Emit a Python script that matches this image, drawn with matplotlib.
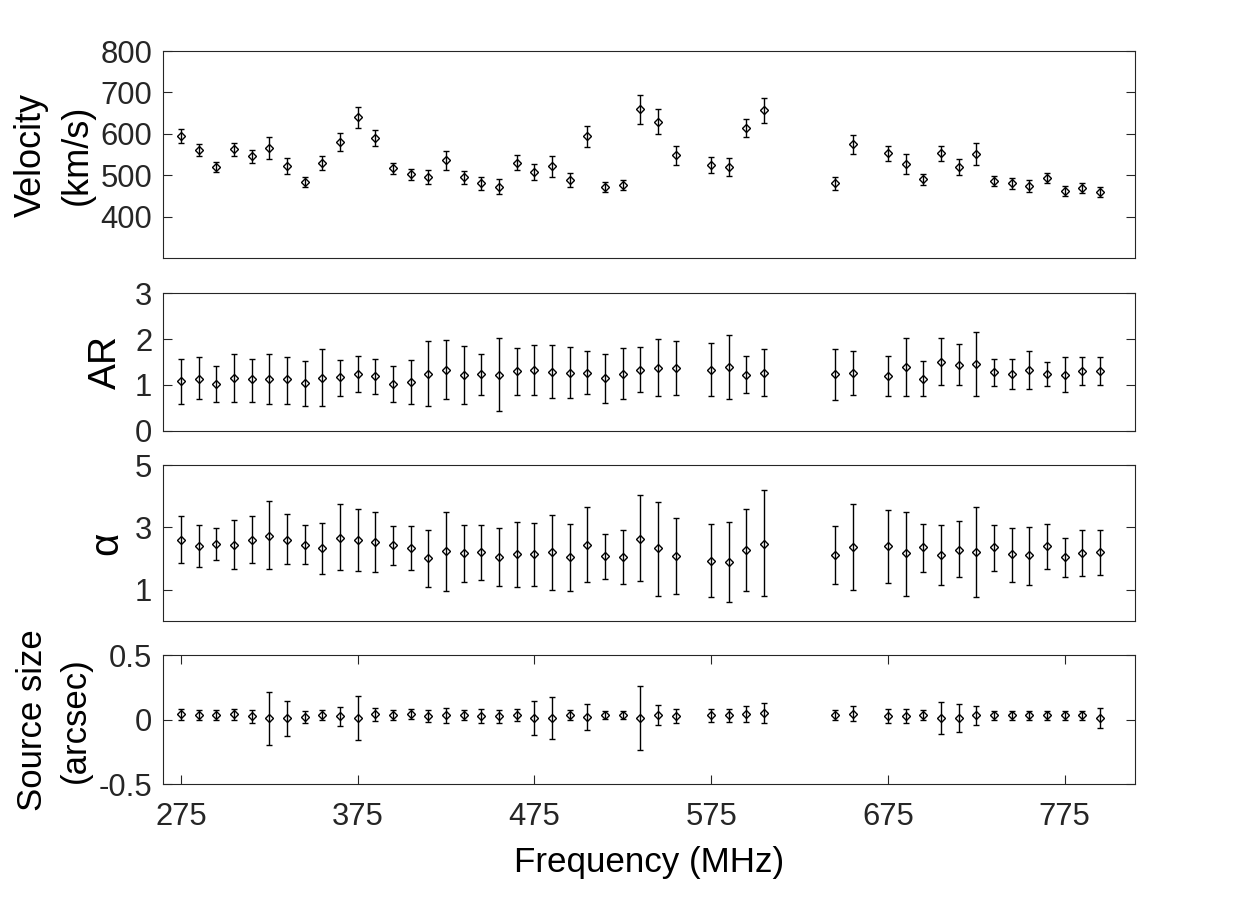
import matplotlib
matplotlib.use("Agg")
import matplotlib.pyplot as plt
import numpy as np

# --- DATA ---
freq = [275, 285, 295, 305, 315, 325, 335, 345, 355, 365,
        375, 385, 395, 405, 415, 425, 435, 445, 455, 465,
        475, 485, 495, 505, 515, 525, 535, 545, 555,
        575, 585, 595, 605,
        645, 655,
        675, 685, 695, 705, 715, 725, 735, 745, 755, 765, 775, 785, 795]

velocity = [594, 561, 520, 563, 546, 566, 522, 484, 529, 580,
            640, 590, 517, 503, 496, 537, 495, 481, 473, 531,
            508, 522, 489, 594, 472, 477, 659, 630, 549,
            525, 520, 614, 657,
            481, 575,
            553, 527, 491, 553, 520, 551, 486, 481, 474, 493, 462, 469, 460]
velocity_err = [17, 14, 12, 16, 16, 26, 19, 13, 17, 22,
                26, 19, 13, 13, 17, 23, 16, 16, 18, 19,
                20, 26, 18, 26, 13, 13, 35, 29, 23,
                19, 21, 22, 30,
                16, 23,
                19, 24, 13, 19, 19, 26, 12, 13, 15, 12, 12, 12, 12]

ar = [1.09, 1.13, 1.02, 1.15, 1.12, 1.13, 1.12, 1.04, 1.15, 1.16,
      1.24, 1.20, 1.02, 1.07, 1.24, 1.33, 1.22, 1.24, 1.22, 1.31,
      1.33, 1.29, 1.26, 1.26, 1.15, 1.24, 1.33, 1.37, 1.37,
      1.33, 1.39, 1.22, 1.26,
      1.24, 1.26,
      1.20, 1.39, 1.13, 1.50, 1.43, 1.46, 1.29, 1.24, 1.33, 1.24, 1.22, 1.30, 1.30]
ar_hi = [1.57, 1.61, 1.41, 1.67, 1.57, 1.67, 1.61, 1.53, 1.78, 1.54,
         1.63, 1.57, 1.41, 1.54, 1.96, 1.98, 1.85, 1.67, 2.02, 1.80,
         1.87, 1.87, 1.83, 1.74, 1.67, 1.80, 1.83, 2.00, 1.96,
         1.91, 2.09, 1.63, 1.78,
         1.78, 1.74,
         1.63, 2.02, 1.53, 2.02, 1.89, 2.15, 1.57, 1.57, 1.74, 1.50, 1.61, 1.61, 1.61]
ar_lo = [0.59, 0.68, 0.63, 0.63, 0.63, 0.57, 0.59, 0.54, 0.54, 0.76,
         0.85, 0.80, 0.63, 0.59, 0.54, 0.68, 0.59, 0.78, 0.43, 0.78,
         0.78, 0.72, 0.72, 0.80, 0.61, 0.68, 0.85, 0.76, 0.78,
         0.76, 0.70, 0.83, 0.75,
         0.67, 0.78,
         0.76, 0.75, 0.76, 1.00, 1.00, 0.76, 0.98, 0.91, 0.91, 0.98, 0.85, 1.00, 1.00]

alpha = [2.61, 2.41, 2.48, 2.45, 2.61, 2.74, 2.61, 2.45, 2.33, 2.67,
         2.61, 2.52, 2.42, 2.33, 2.01, 2.23, 2.17, 2.21, 2.04, 2.14,
         2.14, 2.21, 2.04, 2.45, 2.07, 2.04, 2.64, 2.33, 2.07,
         1.92, 1.88, 2.29, 2.48,
         2.11, 2.37,
         2.40, 2.17, 2.37, 2.11, 2.29, 2.20, 2.37, 2.14, 2.12, 2.40, 2.04, 2.17, 2.21]
alpha_hi = [3.37, 3.08, 2.99, 3.24, 3.37, 3.84, 3.43, 3.08, 3.15, 3.75,
            3.59, 3.49, 3.05, 3.05, 2.93, 3.49, 3.08, 3.08, 2.99, 3.18,
            3.15, 3.40, 3.12, 3.65, 2.80, 2.93, 4.03, 3.81, 3.31,
            3.12, 3.18, 3.59, 4.20,
            3.05, 3.75,
            3.56, 3.49, 3.12, 3.08, 3.21, 3.65, 3.08, 2.99, 3.02, 3.12, 2.67, 2.93, 2.93]
alpha_lo = [1.85, 1.73, 1.95, 1.66, 1.85, 1.66, 1.82, 1.82, 1.51, 1.63,
            1.60, 1.57, 1.79, 1.63, 1.09, 0.97, 1.25, 1.32, 1.13, 1.09,
            1.13, 1.00, 0.97, 1.25, 1.35, 1.19, 1.28, 0.81, 0.87,
            0.75, 0.59, 0.97, 0.81,
            1.19, 1.00,
            1.22, 0.81, 1.57, 1.16, 1.41, 0.75, 1.60, 1.25, 1.16, 1.66, 1.41, 1.44, 1.47]

size = [0.041, 0.036, 0.036, 0.041, 0.028, 0.010, 0.010, 0.021, 0.036, 0.028,
        0.013, 0.044, 0.036, 0.044, 0.028, 0.036, 0.036, 0.026, 0.028, 0.036,
        0.013, 0.013, 0.036, 0.021, 0.036, 0.036, 0.013, 0.036, 0.031,
        0.034, 0.034, 0.044, 0.052,
        0.036, 0.047,
        0.031, 0.031, 0.036, 0.013, 0.013, 0.034, 0.034, 0.034, 0.034, 0.034, 0.034, 0.034, 0.013]
size_err = [0.045, 0.038, 0.038, 0.042, 0.050, 0.205, 0.136, 0.050, 0.040, 0.074,
            0.170, 0.050, 0.040, 0.040, 0.047, 0.058, 0.040, 0.054, 0.050, 0.045,
            0.132, 0.165, 0.040, 0.100, 0.033, 0.033, 0.250, 0.077, 0.053,
            0.050, 0.050, 0.062, 0.078,
            0.037, 0.058,
            0.054, 0.054, 0.037, 0.124, 0.107, 0.074, 0.034, 0.034, 0.034, 0.034, 0.034, 0.034, 0.078]

freq_ticks = [275, 375, 475, 575, 675, 775]

# --- STYLE ---
dark = "#262626"
plt.rcParams["font.family"] = ["Liberation Sans", "DejaVu Sans"]
plt.rcParams["axes.unicode_minus"] = False
plt.rcParams["axes.edgecolor"] = dark
plt.rcParams["axes.linewidth"] = 0.8
plt.rcParams["xtick.color"] = dark
plt.rcParams["ytick.color"] = dark
plt.rcParams["text.color"] = dark

fig = plt.figure(figsize=(12.55, 8.97), dpi=100)

left, width = 0.1301, 0.7745
boxes = [(0.712, 0.2311), (0.520, 0.153), (0.308, 0.1733), (0.1257, 0.1438)]
axes = [fig.add_axes([left, b, width, h]) for b, h in boxes]

err_style = dict(fmt="D", ms=4.4, mfc="none", mec="black", mew=1.0,
                 ecolor="black", elinewidth=1.0, capsize=2.3, capthick=1.0)

f = np.array(freq)
axes[0].errorbar(f, velocity, yerr=velocity_err, **err_style)
ar_v = np.array(ar)
axes[1].errorbar(f, ar_v, yerr=[ar_v - np.array(ar_lo), np.array(ar_hi) - ar_v], **err_style)
al_v = np.array(alpha)
axes[2].errorbar(f, al_v, yerr=[al_v - np.array(alpha_lo), np.array(alpha_hi) - al_v], **err_style)
axes[3].errorbar(f, size, yerr=size_err, **err_style)

ylims = [(300, 800), (0, 3), (0, 5), (-0.5, 0.5)]
yticks = [[400, 500, 600, 700, 800], [0, 1, 2, 3], [1, 3, 5], [-0.5, 0, 0.5]]
yticklabels = [["400", "500", "600", "700", "800"], ["0", "1", "2", "3"],
               ["1", "3", "5"], ["-0.5", "0", "0.5"]]
ylabels = ["Velocity\n(km/s)", "AR", "α", "Source size\n(arcsec)"]
ylabel_sizes = [26, 28, 29, 25]
ylabel_x = [-0.071, -0.041, -0.039, -0.073]

for i, ax in enumerate(axes):
    ax.set_xlim(265, 815)
    ax.set_ylim(*ylims[i])
    ax.set_yticks(yticks[i])
    ax.set_yticklabels(yticklabels[i])
    ax.tick_params(axis="y", direction="in", length=6.5, width=0.8,
                   labelsize=22.3, pad=8, left=True, right=True)
    if i < 3:
        ax.set_xticks([])
    ax.set_ylabel(ylabels[i], fontsize=ylabel_sizes[i], linespacing=1.4)
    ax.yaxis.set_label_coords(ylabel_x[i], 0.5)

axes[3].set_xticks(freq_ticks)
axes[3].tick_params(axis="x", direction="in", length=6.5, width=0.8,
                    labelsize=22.3, pad=13, top=True, bottom=True)
axes[3].set_xlabel("Frequency (MHz)", fontsize=25.2)
axes[3].xaxis.set_label_coords(0.5, -0.48)

fig.savefig("out.png", dpi=100)
